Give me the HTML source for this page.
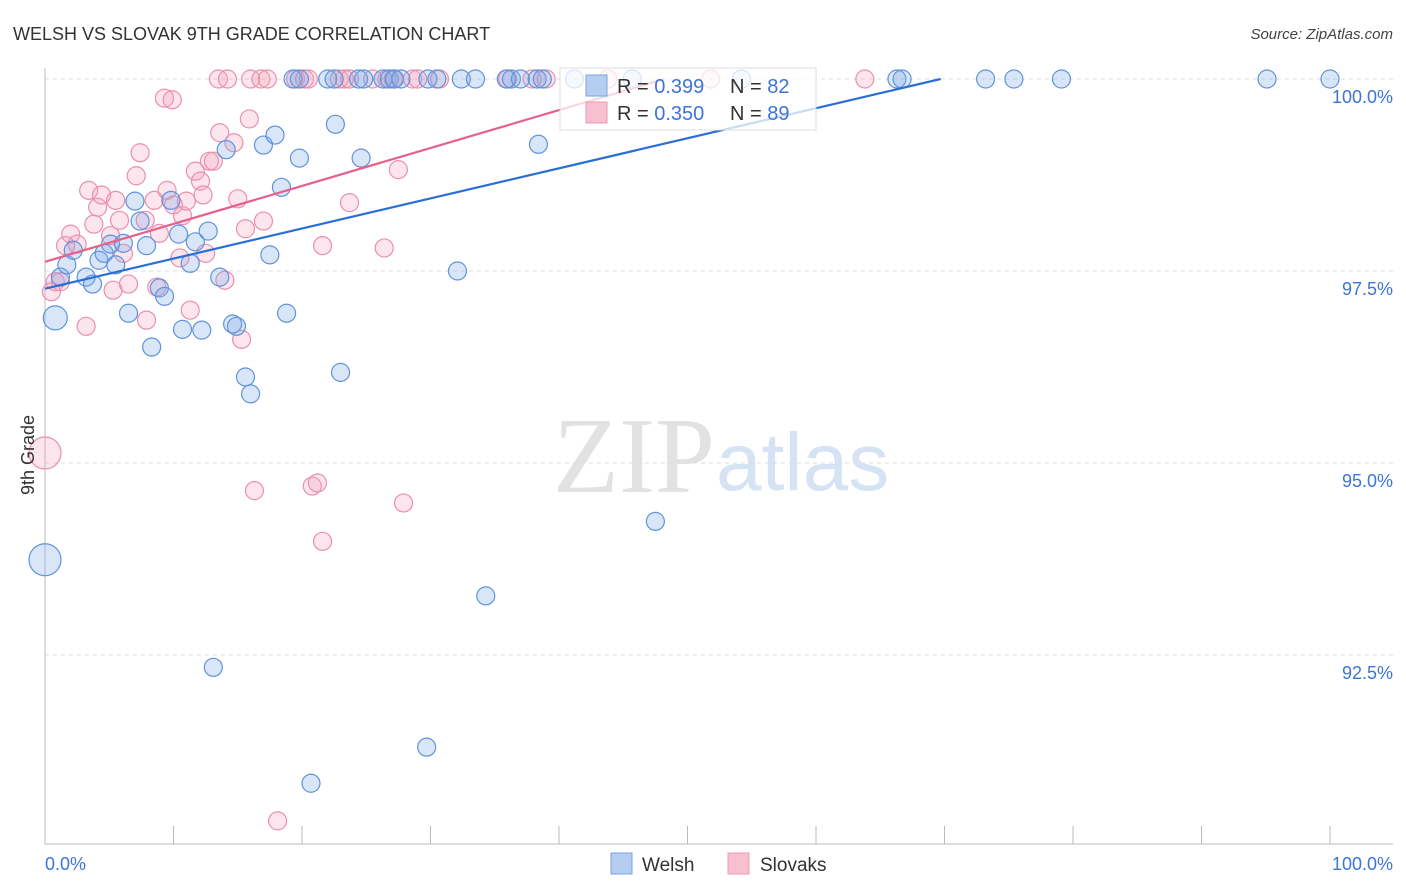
<!DOCTYPE html>
<html><head><meta charset="utf-8"><style>
body{margin:0;background:#fff;}
svg{display:block;font-family:"Liberation Sans",sans-serif;}
</style></head><body>
<svg id="chart" width="1406" height="892" viewBox="0 0 1406 892">
<text x="13" y="40" font-size="18" fill="#333">WELSH VS SLOVAK 9TH GRADE CORRELATION CHART</text>
<text x="1393" y="39" font-size="15" fill="#444" font-style="italic" text-anchor="end">Source: ZipAtlas.com</text>
<g>
<text x="553" y="492" font-family="Liberation Serif,serif" font-size="108" fill="#e2e2e2">ZIP</text>
<text x="716" y="490" font-size="82" fill="#d6e3f5">atlas</text>
</g>
<g id="grid"></g>
<g id="axes"></g>
<g id="pts"></g>
<g id="trend"></g>
<g>
<rect x="560" y="68" width="256" height="62" fill="#fff" fill-opacity="0.75" stroke="#ddd"/>
<rect x="586" y="75" width="21" height="21" fill="#b5cdf0" stroke="#7aa3e0"/>
<rect x="586" y="102" width="21" height="21" fill="#f7c0d0" stroke="#ec9ab3"/>
<text x="617" y="93" font-size="20" fill="#333">R = <tspan fill="#3d74d6">0.399</tspan></text>
<text x="730" y="93" font-size="20" fill="#333">N = <tspan fill="#3d74d6">82</tspan></text>
<text x="617" y="120" font-size="20" fill="#333">R = <tspan fill="#3d74d6">0.350</tspan></text>
<text x="730" y="120" font-size="20" fill="#333">N = <tspan fill="#3d74d6">89</tspan></text>
</g>
<text transform="translate(34,455) rotate(-90)" font-size="18" fill="#333" text-anchor="middle">9th Grade</text>
<text x="45" y="870" font-size="18" fill="#3d74d6">0.0%</text>
<text x="1393" y="870" font-size="18" fill="#3d74d6" text-anchor="end">100.0%</text>
<g>
<rect x="611" y="853" width="21" height="21" fill="#b5cdf0" stroke="#7aa3e0"/>
<text x="642" y="871" font-size="19" fill="#333">Welsh</text></g>
<g>
<rect x="728" y="853" width="21" height="21" fill="#f7c0d0" stroke="#ec9ab3"/>
<text x="760" y="871" font-size="19" fill="#333">Slovaks</text></g>
</svg>
<script>
const yTicks=[100,97.5,95,92.5];
const yTickLabels=["100.0%","97.5%","95.0%","92.5%"];
const xTicks=[0,10,20,30,40,50,60,70,80,90,100];
const welshX=[0.8,0,1.2,1.7,2.2,3.2,3.7,4.2,4.6,5.1,5.5,6.1,6.5,7.0,7.4,7.9,8.3,8.9,9.3,9.8,10.4,10.7,11.3,11.7,12.2,12.7,13.1,13.6,14.1,14.6,14.9,15.6,16.0,17.0,17.5,17.9,18.4,18.8,19.8,20.7,22.6,23.0,24.6,29.7,32.1,34.3,38.4,47.5,19.3,19.8,22.0,22.5,24.4,24.8,26.3,26.8,27.2,27.7,29.8,30.5,32.4,33.5,35.9,36.3,37.0,38.3,38.7,41.2,45.7,54.2,66.3,66.7,73.2,75.4,79.1,95.1,100];
const welshY=[96.89,93.74,97.42,97.58,97.77,97.42,97.33,97.64,97.73,97.85,97.58,97.86,96.95,98.41,98.15,97.83,96.51,97.28,97.17,98.42,97.98,96.74,97.60,97.88,96.73,98.02,92.34,97.42,99.08,96.81,96.78,96.12,95.90,99.14,97.71,99.27,98.59,96.95,98.97,90.83,99.41,96.18,98.97,91.30,97.50,93.27,99.15,94.24,100,100,100,100,100,100,100,100,100,100,100,100,100,100,100,100,100,100,100,100,100,100,100,100,100,100,100,100,100];
const slovakX=[0.8,1.2,0.5,1.6,2.0,2.5,3.2,3.4,3.8,4.1,4.4,5.1,5.3,5.5,5.8,6.1,6.5,7.1,7.4,7.8,7.9,8.5,8.7,8.9,9.3,9.5,9.9,10.0,10.5,10.7,11.0,11.3,11.7,12.1,12.3,12.5,12.8,13.1,13.6,14.0,14.7,15.0,15.3,15.6,15.9,16.3,17.0,20.8,21.2,21.6,21.6,18.1,23.7,26.4,27.5,27.9,0,13.5,14.2,16.0,16.8,17.3,19.5,20.2,20.5,22.9,23.3,23.7,25.5,26.6,27.1,28.6,29.0,30.7,36.0,37.9,39.0,43.8,51.8,63.8];
const slovakY=[97.36,97.36,97.23,97.83,97.98,97.85,96.78,98.55,98.11,98.33,98.49,97.96,97.25,98.42,98.16,97.73,97.33,98.74,99.04,98.16,96.86,98.42,97.29,97.99,99.75,98.55,99.73,98.36,97.67,98.22,98.41,96.99,98.80,98.67,98.49,97.73,98.93,98.93,99.30,97.38,99.17,98.44,96.61,98.05,99.48,94.64,98.15,94.70,94.74,93.98,97.83,90.34,98.39,97.80,98.82,94.48,95.13,100,100,100,100,100,100,100,100,100,100,100,100,100,100,100,100,100,100,100,100,100,100,100];
const welshTrend=[0,97.27,69.7,100];
const slovakTrend=[0,97.62,48.2,100];
const NS="http://www.w3.org/2000/svg";
const X0=45,X1=1330,YT=79,YB=844;
function sx(v){return X0+(v/100)*(X1-X0);}
function sy(v){return YT+(100-v)*76.8;}
function mk(tag,attrs,parent){const e=document.createElementNS(NS,tag);for(const k in attrs)e.setAttribute(k,attrs[k]);parent.appendChild(e);return e;}
const grid=document.getElementById('grid'),axes=document.getElementById('axes');
yTicks.forEach((t,i)=>{
 const l=mk('line',{x1:X0,x2:1393,y1:sy(t),y2:sy(t),stroke:'#ddd','stroke-dasharray':'4,4'},grid);
 
 
 const tx=mk('text',{x:1393,y:sy(t)+24,'font-size':18,fill:'#3d74d6','text-anchor':'end'},axes);
 tx.textContent=yTickLabels[i];
 
 
});
const ya=mk('line',{x1:X0,x2:X0,y1:68,y2:YB,stroke:'#bbb'},axes);


const xa=mk('line',{x1:X0,x2:1393,y1:YB,y2:YB,stroke:'#bbb'},axes);


xTicks.forEach(t=>{
 const l=mk('line',{x1:sx(t),x2:sx(t),y1:826,y2:YB,stroke:'#bbb'},axes);
 
 
});
const pts=document.getElementById('pts');
function big(x,y){return x===0&&(y<96)?16:(x===0.8&&y<97&&y>96.8?12:9);}
slovakX.forEach((x,i)=>{
 const c=mk('circle',{cx:sx(x),cy:sy(slovakY[i]),r:big(x,slovakY[i]),fill:'rgba(244,160,188,0.28)',stroke:'#eb8fac','stroke-width':1.2},pts);
 
 
});
welshX.forEach((x,i)=>{
 const c=mk('circle',{cx:sx(x),cy:sy(welshY[i]),r:big(x,welshY[i]),fill:'rgba(120,165,230,0.28)',stroke:'#5f93dc','stroke-width':1.2},pts);
 
 
});
const tr=document.getElementById('trend');
const wl=mk('line',{x1:sx(welshTrend[0]),y1:sy(welshTrend[1]),x2:sx(welshTrend[2]),y2:sy(welshTrend[3]),stroke:'#2a6fd6','stroke-width':2.2},tr);


const pl=mk('line',{x1:sx(slovakTrend[0]),y1:sy(slovakTrend[1]),x2:sx(slovakTrend[2]),y2:sy(slovakTrend[3]),stroke:'#e8608a','stroke-width':2.2},tr);


</script>
</body></html>
